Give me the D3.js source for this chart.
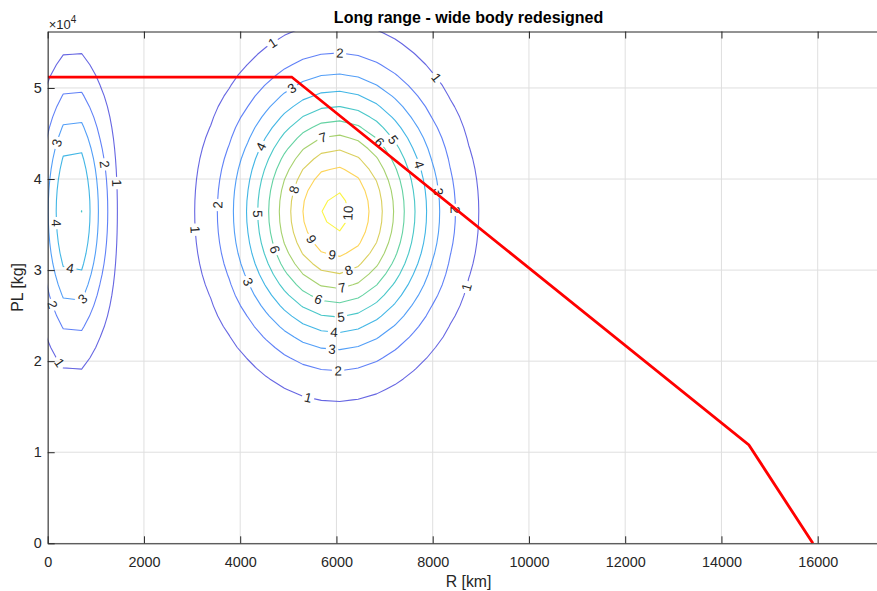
<!DOCTYPE html>
<html>
<head>
<meta charset="utf-8">
<script src="https://cdn.jsdelivr.net/npm/d3@7"></script>
<style>
  body { margin: 0; background: #fff; }
  svg { display: block; font-family: "Liberation Sans", Arial, Helvetica, sans-serif; }
</style>
</head>
<body>
<svg id="chart" width="877" height="591"></svg>
<script>
// ---- data ----------------------------------------------------------------
// contour levels of the demand surface
const contourLevels = [1, 2, 3, 4, 5, 6, 7, 8, 9, 10];

// the surface is two elliptical Gaussian bumps (main market, short-range market)
const bumpPeak        = [10.26, 5.33];
const bumpRange       = [6000, 530];     // centre, km
const bumpPayload     = [36400, 36450];  // centre, kg
const bumpSpreadRange = [1360, 490];     // std dev, km
const bumpSpreadPL    = [9650, 9650];    // std dev, kg

// sampling grid of the surface
const gridRange   = d3.range(-443, 18500, 383);
const gridPayload = d3.range(-1500, 62000, 1150);

// payload-range envelope of the redesigned aircraft
const envelopeRange   = [0, 5070, 14570, 15900];
const envelopePayload = [51200, 51200, 10800, 0];

// axis ticks
const xTicks = [0, 2000, 4000, 6000, 8000, 10000, 12000, 14000, 16000];
const yTicks = [0, 10000, 20000, 30000, 40000, 50000];
const yTickLabels = ["0", "1", "2", "3", "4", "5"];

// inline label spots: [level, range km, payload kg]
const labelSpots = [
  [1, 4661, 55048], [1, 8068, 51095], [1, 2957, 34403], [1, 8692, 28144], [1, 5409, 15955],
  [2, 6074, 53840], [2, 3518, 37149], [2, 8422, 36600], [2, 6032, 18810],
  [3, 5097, 49777], [3, 8027, 38576], [3, 4100, 28584], [3, 5908, 21226],
  [4, 4411, 43628], [4, 7695, 41541], [4, 5949, 23093],
  [5, 4266, 36160], [5, 7113, 44067], [5, 6095, 24850],
  [6, 6843, 43847], [6, 4682, 32207], [6, 5617, 26717],
  [7, 5720, 44616], [7, 6115, 28144],
  [8, 5139, 38795], [8, 6261, 29902],
  [9, 5450, 33305], [9, 5908, 31658],
  [10, 6136, 36380],
  [3, 220, 43924], [2, 1087, 41541], [1, 1330, 39532], [4, 116, 35139],
  [4, 463, 30011], [3, 706, 26903], [2, 83, 26168], [1, 220, 19766]
];

// ---- layout ----------------------------------------------------------------
const W = 877, H = 591;
const plot = { left: 47.7, right: 889.4, top: 31.5, bottom: 543.3 };
const axisColor = "#262626";

const x = d3.scaleLinear().domain([0, 17490]).range([plot.left, plot.right]);
const y = d3.scaleLinear().domain([0, 56200]).range([plot.bottom, plot.top]);

const svg = d3.select("#chart");
const defs = svg.append("defs");
defs.append("clipPath").attr("id", "plotClip")
  .append("rect")
  .attr("x", plot.left).attr("y", plot.top)
  .attr("width", plot.right - plot.left).attr("height", plot.bottom - plot.top);

// grid
const gridG = svg.append("g").attr("stroke", "#dfdfdf").attr("stroke-width", 1);
gridG.selectAll("line.vx").data(xTicks).join("line")
  .attr("x1", d => x(d)).attr("x2", d => x(d))
  .attr("y1", plot.top).attr("y2", plot.bottom);
gridG.selectAll("line.hy").data(yTicks).join("line")
  .attr("x1", plot.left).attr("x2", plot.right)
  .attr("y1", d => y(d)).attr("y2", d => y(d));

// ---- surface ---------------------------------------------------------------
const nx = gridRange.length, ny = gridPayload.length;
const values = new Array(nx * ny);
for (let j = 0; j < ny; j++) {
  for (let i = 0; i < nx; i++) {
    let v = 0;
    for (let b = 0; b < bumpPeak.length; b++) {
      const u = (gridRange[i] - bumpRange[b]) / bumpSpreadRange[b];
      const w = (gridPayload[j] - bumpPayload[b]) / bumpSpreadPL[b];
      v += bumpPeak[b] * Math.exp(-0.5 * (u * u + w * w));
    }
    values[j * nx + i] = v;
  }
}
const zMin = d3.min(values), zMax = d3.max(values);

// parula colour map
const parulaStops = ["#3e26a8", "#4752f4", "#2d87f7", "#11b1d6", "#37c897", "#abc739", "#fec338", "#f9fb15"];
const parula = d3.scaleLinear()
  .domain(d3.range(parulaStops.length).map(k => k / (parulaStops.length - 1)))
  .range(parulaStops).interpolate(d3.interpolateRgb);
const levelColor = L => parula((L - zMin) / (zMax - zMin));

const dR = gridRange[1] - gridRange[0];
const dP = gridPayload[1] - gridPayload[0];
const toPx = p => [x(gridRange[0] + (p[0] - 0.5) * dR), y(gridPayload[0] + (p[1] - 0.5) * dP)];

const contourSets = d3.contours().size([nx, ny]).thresholds(contourLevels)(values);

// rings of each level in pixel space
const ringsByLevel = new Map();
contourSets.forEach(c => {
  const rings = [];
  c.coordinates.forEach(poly => poly.forEach(ring => rings.push(ring.map(toPx))));
  ringsByLevel.set(c.value, rings);
});

const contourG = svg.append("g").attr("clip-path", "url(#plotClip)");
const labelG = svg.append("g").attr("clip-path", "url(#plotClip)")
  .attr("font-size", "13.3px").attr("fill", axisColor);

// one mask per level, opening a gap under each inline label
const masks = new Map();
contourLevels.forEach(L => {
  const m = defs.append("mask").attr("id", "gap" + L)
    .attr("maskUnits", "userSpaceOnUse")
    .attr("x", 0).attr("y", 0).attr("width", W).attr("height", H);
  m.append("rect").attr("x", 0).attr("y", 0).attr("width", W).attr("height", H).attr("fill", "#fff");
  masks.set(L, m);
});

function nearestOnRings(rings, p) {
  let best = { d: Infinity };
  rings.forEach((ring, ri) => {
    for (let k = 0; k < ring.length - 1; k++) {
      const a = ring[k], b = ring[k + 1];
      const vx = b[0] - a[0], vy = b[1] - a[1];
      const l2 = vx * vx + vy * vy || 1e-9;
      let t = ((p[0] - a[0]) * vx + (p[1] - a[1]) * vy) / l2;
      t = Math.max(0, Math.min(1, t));
      const qx = a[0] + t * vx, qy = a[1] + t * vy;
      const d = (qx - p[0]) ** 2 + (qy - p[1]) ** 2;
      if (d < best.d) best = { d, ri, k, t, q: [qx, qy] };
    }
  });
  return best;
}

function pointAt(ring, cum, s) {
  const total = cum[cum.length - 1];
  s = ((s % total) + total) % total;
  let k = d3.bisectRight(cum, s) - 1;
  k = Math.max(0, Math.min(ring.length - 2, k));
  const seg = cum[k + 1] - cum[k] || 1e-9;
  const t = (s - cum[k]) / seg;
  return [ring[k][0] + t * (ring[k + 1][0] - ring[k][0]), ring[k][1] + t * (ring[k + 1][1] - ring[k][1])];
}

labelSpots.forEach(([L, r, pl]) => {
  const rings = ringsByLevel.get(L);
  if (!rings || !rings.length) return;
  const hit = nearestOnRings(rings, [x(r), y(pl)]);
  const ring = rings[hit.ri];
  const cum = [0];
  for (let k = 1; k < ring.length; k++) {
    cum.push(cum[k - 1] + Math.hypot(ring[k][0] - ring[k - 1][0], ring[k][1] - ring[k - 1][1]));
  }
  const s = cum[hit.k] + hit.t * (cum[hit.k + 1] - cum[hit.k]);
  const p1 = pointAt(ring, cum, s - 6), p2 = pointAt(ring, cum, s + 6);
  let ang = Math.atan2(p2[1] - p1[1], p2[0] - p1[0]) * 180 / Math.PI;
  while (ang > 90) ang -= 180;
  while (ang <= -90) ang += 180;
  const [qx, qy] = hit.q;
  const txt = labelG.append("text")
    .attr("text-anchor", "middle").attr("dy", "0.36em")
    .attr("transform", `translate(${qx},${qy}) rotate(${ang})`)
    .text(String(L));
  const w = txt.node().getComputedTextLength() + 5;
  masks.get(L).append("rect")
    .attr("x", -w / 2).attr("y", -5).attr("width", w).attr("height", 10)
    .attr("fill", "#000")
    .attr("transform", `translate(${qx},${qy}) rotate(${ang})`);
});

const ringLine = d3.line();
contourLevels.forEach(L => {
  const rings = ringsByLevel.get(L) || [];
  contourG.append("path")
    .attr("d", rings.map(r => ringLine(r) + "Z").join(""))
    .attr("fill", "none")
    .attr("stroke", levelColor(L))
    .attr("stroke-width", 1.1)
    .attr("stroke-opacity", 0.82)
    .attr("stroke-linejoin", "round")
    .attr("mask", `url(#gap${L})`);
});

// ---- payload-range envelope ---------------------------------------------------
svg.append("path")
  .datum(d3.zip(envelopeRange, envelopePayload))
  .attr("clip-path", "url(#plotClip)")
  .attr("d", d3.line().x(d => x(d[0])).y(d => y(d[1])))
  .attr("fill", "none").attr("stroke", "#ff0000").attr("stroke-width", 2.8)
  .attr("stroke-linejoin", "miter");

// ---- axes ----------------------------------------------------------------
function styleAxis(g) {
  g.attr("font-family", null).attr("font-size", "14.4px");
  g.selectAll("path.domain").attr("stroke", axisColor);
  g.selectAll(".tick line").attr("stroke", axisColor);
  g.selectAll(".tick text").attr("fill", axisColor);
}
svg.append("g").attr("transform", `translate(0,${plot.bottom})`)
  .call(d3.axisBottom(x).tickValues(xTicks).tickFormat(d3.format("d"))
    .tickSizeInner(-7).tickSizeOuter(0).tickPadding(13))
  .call(styleAxis);
svg.append("g").attr("transform", `translate(0,${plot.top})`)
  .call(d3.axisTop(x).tickValues(xTicks).tickFormat("")
    .tickSizeInner(-7).tickSizeOuter(0))
  .call(styleAxis);
svg.append("g").attr("transform", `translate(${plot.left},0)`)
  .call(d3.axisLeft(y).tickValues(yTicks).tickFormat((d, i) => yTickLabels[i])
    .tickSizeInner(-7).tickSizeOuter(0).tickPadding(6))
  .call(styleAxis);

// exponent marker
const expo = svg.append("text").attr("x", plot.left + 1).attr("y", 29.3)
  .attr("font-size", "13px").attr("fill", axisColor);
expo.append("tspan").text("×10");
expo.append("tspan").attr("dy", -6).attr("font-size", "10px").text("4");

// title and axis labels
const midX = (plot.left + plot.right) / 2;
svg.append("text").attr("x", midX).attr("y", 23.3)
  .attr("text-anchor", "middle").attr("font-weight", "bold").attr("font-size", "16px")
  .attr("fill", "#000").text("Long range - wide body redesigned");
svg.append("text").attr("x", midX).attr("y", 587)
  .attr("text-anchor", "middle").attr("font-size", "15.8px").attr("fill", axisColor)
  .text("R [km]");
svg.append("text")
  .attr("transform", `translate(23,${(plot.top + plot.bottom) / 2}) rotate(-90)`)
  .attr("text-anchor", "middle").attr("font-size", "15.8px").attr("fill", axisColor)
  .text("PL [kg]");
</script>
</body>
</html>
